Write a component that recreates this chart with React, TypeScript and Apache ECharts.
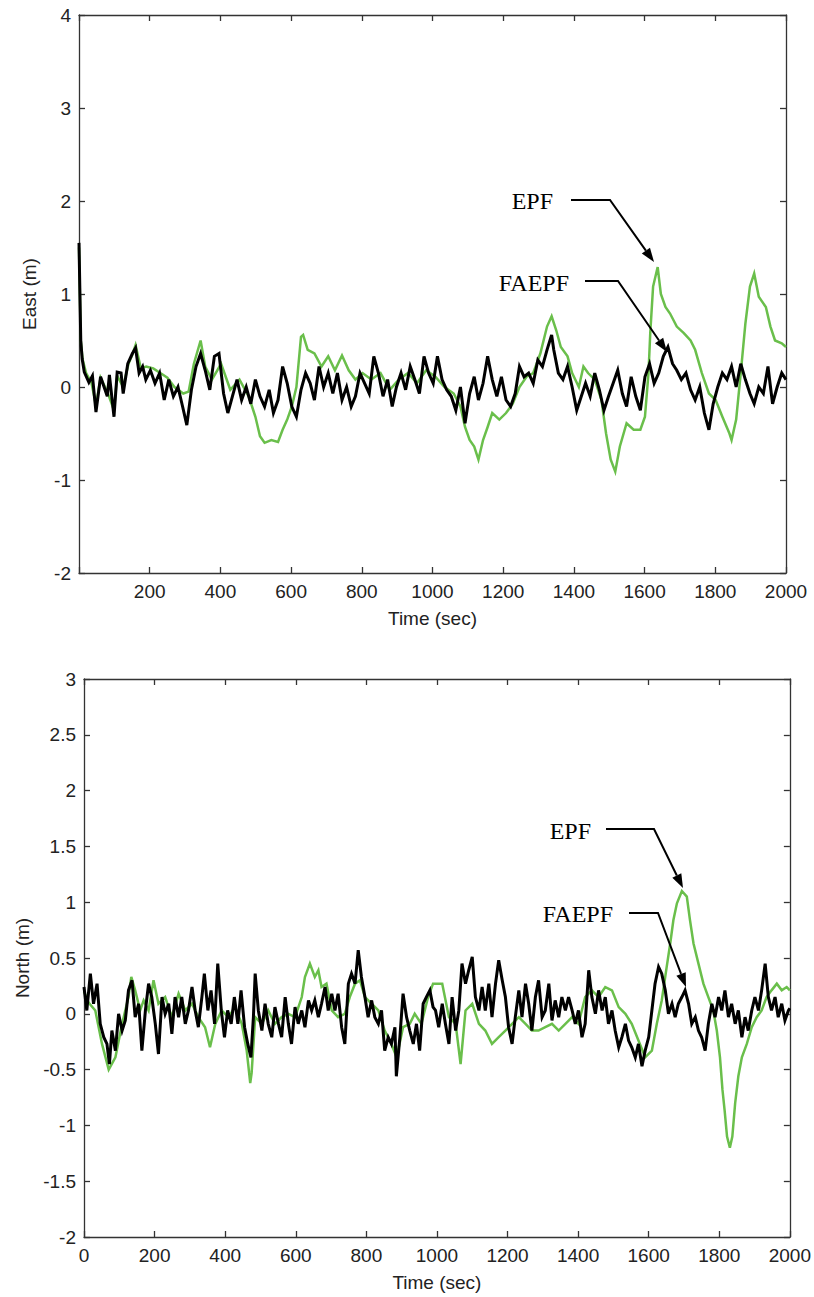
import React, { useEffect, useRef } from 'react';
import * as echarts from 'echarts';

const W = 814;
const H = 1297;

// ---------- DATA (time in sec, value in m) ----------
const xTicks = [0, 200, 400, 600, 800, 1000, 1200, 1400, 1600, 1800, 2000];

const eastFaepf: [number, number][] = [
  [0,1.55],[5,0.5],[9,0.3],[15,0.16],[28,0.05],[38,0.12],[48,-0.27],[61,0.11],[80,-0.1],[86,0.13],[99,-0.32],[108,0.16],[119,0.15],[125,-0.07],[138,0.25],[151,0.36],[160,0.42],[170,0.15],[180,0.22],[189,0.08],[202,0.18],[215,0.04],[228,0.15],[241,-0.14],[254,0.08],[267,-0.1],[280,0],[293,-0.21],[305,-0.41],[318,-0.03],[331,0.22],[344,0.36],[357,0.18],[370,-0.03],[383,0.33],[396,0.36],[409,-0.07],[421,-0.28],[434,-0.1],[447,0.08],[460,-0.14],[473,0],[486,-0.18],[499,0.08],[512,-0.1],[525,-0.21],[538,-0.03],[550,-0.28],[563,-0.14],[576,0.22],[589,0.04],[602,-0.21],[615,-0.32],[628,-0.03],[641,0.15],[654,0.04],[666,-0.14],[679,0.22],[692,0],[705,0.15],[718,-0.07],[731,0.15],[744,-0.14],[757,0],[770,-0.21],[782,-0.1],[795,0.15],[808,0.04],[821,-0.07],[834,0.33],[847,0.15],[860,-0.1],[873,0.08],[886,-0.21],[898,0],[911,0.15],[924,-0.03],[937,0.22],[950,0.08],[963,-0.07],[976,0.33],[989,0.15],[1002,0.04],[1014,0.33],[1027,0.08],[1040,-0.03],[1053,-0.1],[1066,-0.25],[1079,0],[1092,-0.39],[1105,-0.07],[1118,0.11],[1130,-0.14],[1143,0.04],[1156,0.33],[1169,0.08],[1182,-0.1],[1195,0.11],[1208,-0.14],[1221,-0.21],[1234,-0.07],[1246,0.22],[1259,0.11],[1272,0.15],[1285,0.04],[1298,0.29],[1311,0.22],[1324,0.4],[1337,0.56],[1343,0.4],[1356,0.15],[1369,0.08],[1382,0.22],[1395,0],[1408,-0.25],[1421,-0.1],[1433,0.04],[1446,-0.1],[1459,0.15],[1472,-0.03],[1485,-0.25],[1498,-0.1],[1511,0.04],[1524,0.18],[1537,-0.07],[1549,-0.21],[1562,0.11],[1575,-0.1],[1588,-0.25],[1601,0.11],[1614,0.25],[1627,0.04],[1640,0.15],[1653,0.33],[1666,0.43],[1679,0.25],[1691,0.18],[1704,0.08],[1717,0.15],[1730,-0.03],[1743,-0.14],[1756,0],[1769,-0.28],[1782,-0.46],[1794,-0.18],[1807,0],[1820,0.15],[1833,0.08],[1846,0.22],[1859,0],[1872,0.25],[1885,0.08],[1898,-0.07],[1910,-0.18],[1923,0],[1936,-0.07],[1949,0.22],[1962,-0.18],[1975,0],[1988,0.15],[2000,0.08]
];

const eastEpf: [number, number][] = [
  [0,1.5],[5,0.5],[10,0.3],[20,0.15],[35,0.05],[48,-0.2],[61,0.1],[80,-0.05],[99,-0.25],[108,0.12],[125,0.0],[140,0.25],[151,0.35],[160,0.45],[175,0.2],[190,0.22],[210,0.2],[230,0.15],[250,0.1],[270,0.0],[295,-0.07],[310,-0.05],[325,0.25],[344,0.5],[357,0.22],[376,0.08],[402,0.25],[428,-0.03],[454,0.08],[480,-0.1],[499,-0.32],[512,-0.53],[525,-0.6],[544,-0.57],[563,-0.59],[576,-0.46],[589,-0.35],[602,-0.21],[615,0],[628,0.54],[634,0.56],[647,0.4],[666,0.36],[686,0.22],[705,0.33],[724,0.18],[744,0.34],[763,0.18],[782,0.08],[802,0.15],[827,0.08],[853,0.15],[879,-0.03],[905,0.08],[931,0.15],[956,0.04],[982,0.18],[1008,0.11],[1034,0],[1060,-0.07],[1079,-0.21],[1092,-0.43],[1105,-0.57],[1118,-0.64],[1130,-0.78],[1143,-0.57],[1156,-0.43],[1169,-0.28],[1189,-0.35],[1208,-0.28],[1227,-0.18],[1246,0],[1266,0.11],[1285,0.15],[1305,0.36],[1324,0.65],[1337,0.76],[1350,0.61],[1363,0.43],[1382,0.33],[1395,0.15],[1414,0],[1427,0.22],[1440,0.15],[1459,0.08],[1478,-0.14],[1491,-0.5],[1504,-0.78],[1517,-0.91],[1530,-0.64],[1549,-0.39],[1569,-0.46],[1588,-0.46],[1601,-0.32],[1611,0.15],[1616,0.58],[1624,1.08],[1637,1.29],[1646,1.0],[1659,0.86],[1672,0.79],[1691,0.65],[1711,0.58],[1730,0.5],[1743,0.4],[1762,0.15],[1782,-0.07],[1801,-0.14],[1820,-0.32],[1840,-0.5],[1846,-0.57],[1859,-0.35],[1872,0.15],[1885,0.68],[1898,1.08],[1910,1.22],[1923,0.97],[1943,0.86],[1956,0.65],[1969,0.5],[1988,0.47],[2000,0.43]
];

const northFaepf: [number, number][] = [
  [0,0.24],[8,0.03],[18,0.36],[27,0.09],[37,0.27],[46,-0.09],[56,-0.21],[65,-0.27],[72,-0.45],[79,-0.15],[89,-0.33],[98,0],[108,-0.15],[117,-0.06],[126,0.21],[136,0.3],[145,-0.03],[155,0.09],[164,-0.33],[174,0.03],[183,0.27],[192,0.15],[202,-0.09],[211,-0.36],[221,0.15],[230,0],[240,0.09],[249,-0.18],[258,0.15],[268,-0.03],[277,0.15],[287,-0.09],[296,0.03],[306,0.24],[315,0.03],[324,-0.12],[334,0.15],[341,0.36],[351,0.03],[360,0.21],[370,-0.09],[379,0.45],[389,0.03],[398,-0.21],[407,0.03],[417,-0.09],[426,0.15],[436,-0.09],[445,0.21],[455,-0.12],[464,-0.27],[473,-0.39],[480,-0.03],[485,0.36],[494,0.03],[504,-0.15],[513,0.09],[522,-0.09],[532,-0.21],[541,0.06],[551,-0.09],[560,-0.21],[570,0.15],[579,-0.09],[588,-0.27],[598,0.06],[607,-0.09],[617,0.03],[626,-0.12],[636,0.12],[645,0.03],[654,0.12],[664,-0.03],[673,0.09],[683,0.24],[692,0.03],[702,0.18],[711,0.03],[720,0.18],[730,-0.12],[739,-0.27],[749,0.27],[758,0.36],[768,0.27],[777,0.57],[786,0.33],[796,0.15],[805,-0.03],[815,0.12],[824,-0.03],[834,-0.09],[843,0.03],[852,-0.33],[862,-0.21],[871,-0.27],[881,-0.12],[885,-0.56],[895,-0.21],[904,0.18],[914,-0.03],[923,-0.15],[933,-0.27],[942,-0.09],[951,-0.33],[961,0.09],[970,0.15],[980,0.21],[989,0.06],
  [996,0.03],[1005,-0.12],[1015,0.09],[1024,-0.09],[1034,-0.27],[1043,0.15],[1053,-0.15],[1062,0.03],[1071,0.45],[1081,0.27],[1090,0.39],[1100,0.51],[1109,0.15],[1119,0.03],[1128,0.24],[1137,0.03],[1147,0.27],[1156,-0.03],[1166,0.27],[1175,0.48],[1185,0.3],[1194,0.15],[1203,-0.12],[1213,-0.27],[1222,-0.03],[1232,0.21],[1241,-0.03],[1251,0.27],[1260,0.09],[1269,-0.15],[1279,0.15],[1288,0.3],[1298,-0.03],[1307,0.03],[1317,0.27],[1326,-0.06],[1335,0.12],[1345,-0.03],[1354,0.15],[1364,0.03],[1373,0.15],[1383,0.03],[1392,-0.09],[1401,0.03],[1411,-0.21],[1420,-0.09],[1430,0.39],[1439,0.15],[1449,0],[1458,0.21],[1468,0.03],[1477,0.15],[1486,-0.09],[1496,0.03],[1505,-0.15],[1515,-0.3],[1524,-0.21],[1534,-0.09],[1543,-0.24],[1552,-0.3],[1562,-0.39],[1571,-0.27],[1581,-0.47],[1590,-0.33],[1600,-0.21],[1609,0.03],[1618,0.27],[1628,0.42],[1637,0.36],[1647,0.21],[1656,0],[1666,0.09],[1675,-0.03],[1684,0.09],[1694,0.15],[1703,0.21],[1713,0.09],[1722,-0.09],[1732,-0.03],[1741,-0.15],[1750,-0.21],[1760,-0.33],[1769,-0.09],[1779,0.09],[1788,-0.03],[1798,0.15],[1807,0.03],[1816,0.21],[1826,-0.03],[1835,0.09],[1845,-0.09],[1854,0.03],[1864,-0.21],[1873,-0.03],[1882,-0.15],[1892,0.03],[1901,0.15],[1911,0.03],[1920,0.21],[1930,0.45],[1939,0.15],[1948,0.03],[1958,0.15],[1967,-0.03],[1977,0.09],[1986,-0.06],[1996,0.03],[2000,0.05]
];

const northEpf: [number, number][] = [
  [0,0.2],[13,0.1],[32,0.03],[51,-0.27],[70,-0.5],[89,-0.39],[108,-0.09],[126,0.15],[134,0.33],[145,0.21],[159,0.03],[169,0.12],[183,0.03],[197,0.3],[211,0.09],[230,0.15],[249,-0.03],[268,0.18],[287,0.03],[306,0.09],[324,-0.03],[343,-0.12],[357,-0.3],[372,-0.09],[390,0.03],[409,-0.03],[428,0.06],[447,-0.09],[461,-0.33],[471,-0.62],[475,-0.53],[485,-0.03],[504,-0.09],[522,0.03],[541,-0.09],[560,-0.03],[579,0],[598,-0.03],[617,0.15],[626,0.33],[640,0.45],[654,0.33],[664,0.39],[673,0.24],[687,0.27],[702,0.03],[720,-0.03],[739,0],[753,0.15],[768,0.27],[782,0.3],[796,0.15],[815,0.09],[834,0.03],[852,-0.15],[871,-0.27],[886,-0.39],[904,-0.12],[923,-0.09],[937,0],[956,-0.09],[975,0.15],[989,0.27],
  [996,0.27],[1015,0.27],[1034,-0.03],[1053,-0.09],[1067,-0.45],[1081,0.03],[1100,0.09],[1119,-0.09],[1137,-0.15],[1156,-0.27],[1175,-0.21],[1194,-0.15],[1213,-0.09],[1232,-0.03],[1251,-0.09],[1269,-0.15],[1288,-0.15],[1307,-0.12],[1326,-0.09],[1345,-0.15],[1364,-0.09],[1383,-0.03],[1401,-0.09],[1420,0.15],[1439,0.21],[1458,0.15],[1477,0.24],[1496,0.21],[1515,0.06],[1534,0],[1552,-0.09],[1571,-0.24],[1590,-0.39],[1609,-0.33],[1623,-0.09],[1637,0.12],[1651,0.42],[1661,0.63],[1670,0.84],[1680,0.99],[1694,1.1],[1708,1.05],[1717,0.84],[1727,0.63],[1741,0.45],[1755,0.27],[1769,0.15],[1783,0.03],[1793,-0.15],[1802,-0.39],[1809,-0.68],[1815,-0.86],[1822,-1.1],[1830,-1.2],[1837,-1.1],[1845,-0.8],[1854,-0.56],[1864,-0.39],[1878,-0.27],[1892,-0.12],[1906,-0.03],[1920,0.03],[1934,0.15],[1948,0.21],[1963,0.27],[1977,0.21],[1991,0.24],[2000,0.21]
];

// ---------- STYLE ----------
const GREEN = '#6abf4b';
const AXIS = '#333';
const SANS = "'Liberation Sans', Arial, sans-serif";
const SERIF = "'Liberation Serif', 'Times New Roman', serif";

function xAxes(gridIndex: number, hideZero: boolean) {
  const common = {
    type: 'value', gridIndex, min: xTicks[0], max: xTicks[xTicks.length - 1], interval: 200,
    splitLine: { show: false },
    axisLine: { show: true, onZero: false, lineStyle: { color: AXIS, width: 1.3 } },
    axisTick: { show: true, inside: true, length: 6, lineStyle: { color: AXIS, width: 1.3 } },
  };
  return [
    {
      ...common, position: 'bottom',
      axisLabel: {
        color: '#222', fontSize: 19, fontFamily: SANS, margin: 9,
        formatter: (v: number) => (hideZero && v === 0 ? '' : String(v)),
      },
      name: 'Time (sec)', nameLocation: 'middle', nameGap: 36,
      nameTextStyle: { color: '#222', fontSize: 19, fontFamily: SANS },
    },
    { ...common, position: 'top', axisLabel: { show: false } },
  ];
}

function yAxes(gridIndex: number, min: number, max: number, interval: number, name: string) {
  const common = {
    type: 'value', gridIndex, min, max, interval,
    splitLine: { show: false },
    axisLine: { show: true, onZero: false, lineStyle: { color: AXIS, width: 1.3 } },
    axisTick: { show: true, inside: true, length: 6, lineStyle: { color: AXIS, width: 1.3 } },
  };
  return [
    {
      ...common, position: 'left',
      axisLabel: { color: '#222', fontSize: 19, fontFamily: SANS, margin: 8 },
      name, nameLocation: 'middle', nameGap: 40,
      nameTextStyle: { color: '#222', fontSize: 19, fontFamily: SANS },
    },
    { ...common, position: 'right', axisLabel: { show: false } },
  ];
}

function arrow(pts: number[][]) {
  const n = pts.length;
  const [x1, y1] = pts[n - 2];
  const [x2, y2] = pts[n - 1];
  const dx = x2 - x1, dy = y2 - y1;
  const len = Math.hypot(dx, dy);
  const ux = dx / len, uy = dy / len;
  const hl = 14, hw = 5;
  const bx = x2 - ux * hl, by = y2 - uy * hl;
  const shaft = pts.slice(0, n - 1).concat([[bx, by]]);
  return [
    { type: 'polyline', shape: { points: shaft }, style: { stroke: '#000', lineWidth: 2, fill: null }, z: 100 },
    {
      type: 'polygon',
      shape: { points: [[x2, y2], [bx - uy * hw, by + ux * hw], [bx + uy * hw, by - ux * hw]] },
      style: { fill: '#000' }, z: 100,
    },
  ];
}

function label(text: string, right: number, cy: number) {
  return {
    type: 'text', x: right, y: cy, z: 100,
    style: { text, fill: '#000', font: `24px ${SERIF}`, align: 'right', verticalAlign: 'middle' },
  };
}

export default function App() {
  const ref = useRef<HTMLDivElement>(null);
  useEffect(() => {
    document.body.style.margin = '0';
    const chart = echarts.init(ref.current!, null, { renderer: 'svg', width: W, height: H });
    const lineSeries = (data: [number, number][], color: string, width: number, idx: number, z: number) => ({
      type: 'line', data, xAxisIndex: idx * 2, yAxisIndex: idx * 2, showSymbol: false,
      lineStyle: { color, width, join: 'miter' }, z, clip: true,
    });
    chart.setOption({
      animation: false,
      backgroundColor: '#fff',
      grid: [
        { left: 79, top: 15, width: 707, height: 558 },
        { left: 84, top: 679, width: 707, height: 558 },
      ],
      xAxis: [...xAxes(0, true), ...xAxes(1, false)],
      yAxis: [...yAxes(0, -2, 4, 1, 'East (m)'), ...yAxes(1, -2, 3, 0.5, 'North (m)')],
      series: [
        lineSeries(eastEpf, GREEN, 2.5, 0, 2),
        lineSeries(eastFaepf, '#000', 3, 0, 3),
        lineSeries(northEpf, GREEN, 2.5, 1, 2),
        lineSeries(northFaepf, '#000', 3, 1, 3),
      ],
      graphic: [
        label('EPF', 553, 201),
        ...arrow([[571, 200], [610, 200], [654, 262]]),
        label('FAEPF', 569, 283),
        ...arrow([[585, 281], [618, 281], [667, 352]]),
        label('EPF', 591, 831),
        ...arrow([[606, 829], [654, 829], [683, 888]]),
        label('FAEPF', 613, 914),
        ...arrow([[629, 913], [658, 913], [686, 987]]),
      ],
    });
    return () => chart.dispose();
  }, []);
  return <div ref={ref} style={{ width: W, height: H }} />;
}
